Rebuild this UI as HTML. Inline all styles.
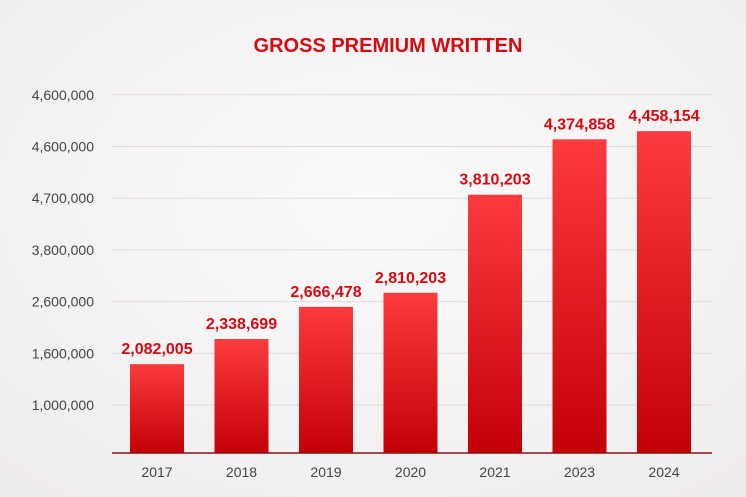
<!DOCTYPE html>
<html><head><meta charset="utf-8"><style>
html,body{margin:0;padding:0;width:746px;height:497px;overflow:hidden;background:#f6f4f4;font-family:"Liberation Sans",sans-serif;}
svg{display:block}
</style></head><body>
<svg id="chart" width="746" height="497">
<defs>
<radialGradient id="bg" cx="50%" cy="40%" r="75%"><stop offset="0" stop-color="#fbfafa"/><stop offset="1" stop-color="#efecec"/></radialGradient>
<linearGradient id="barg" x1="0" y1="0" x2="0" y2="1"><stop offset="0" stop-color="#fb3b3e"/><stop offset="1" stop-color="#c30006"/></linearGradient>
</defs>
<rect width="746" height="497" fill="url(#bg)"/>
<text x="388" y="52" text-anchor="middle" font-size="20" font-weight="bold" fill="#d60a10">GROSS PREMIUM WRITTEN</text>
<g id="grid"></g><g id="bars"></g>
<line x1="112" x2="712" y1="453" y2="453" stroke="#8a1010" stroke-width="1.5"/>
</svg>
<script>
const categories=["2017","2018","2019","2020","2021","2023","2024"];
const values=[2082005,2338699,2666478,2810203,3810203,4374858,4458154];
const valueLabels=["2,082,005","2,338,699","2,666,478","2,810,203","3,810,203","4,374,858","4,458,154"];
const tickLabels=["1,000,000","1,600,000","2,600,000","3,800,000","4,700,000","4,600,000","4,600,000"];
const svg=document.getElementById('chart');
const NS='http://www.w3.org/2000/svg';
const base=453, vmin=1176000, k=0.00009806;
function y(v){return base-(v-vmin)*k;}
function xc(i){return 157+i*84.5;}
function mk(t,a,p){const e=document.createElementNS(NS,t);for(const n in a)e.setAttribute(n,a[n]);p.appendChild(e);return e;}
const g=document.getElementById('grid');
tickLabels.forEach((t,i)=>{
 const yy=405-i*51.7;
 const l=mk('line',{x1:112,x2:712,y1:yy,y2:yy,stroke:'#dedada','stroke-width':1},g);
 
 
 const tx=mk('text',{x:94,y:yy+5,'text-anchor':'end','font-size':14,fill:'#444'},g);
 tx.textContent=t;
 
 
});
const b=document.getElementById('bars');
values.forEach((v,i)=>{
 const top=y(v);
 const r=mk('rect',{x:xc(i)-27,y:top,width:54,height:base-top,fill:'url(#barg)'},b);
 
 
 const lb=mk('text',{x:xc(i),y:top-10,'text-anchor':'middle','font-size':16,'font-weight':'bold',fill:'#d60a10'},b);
 lb.textContent=valueLabels[i];
 
 
 const cl=mk('text',{x:xc(i),y:477,'text-anchor':'middle','font-size':14,fill:'#444'},b);
 cl.textContent=categories[i];
 
 
});
</script>
</body></html>
